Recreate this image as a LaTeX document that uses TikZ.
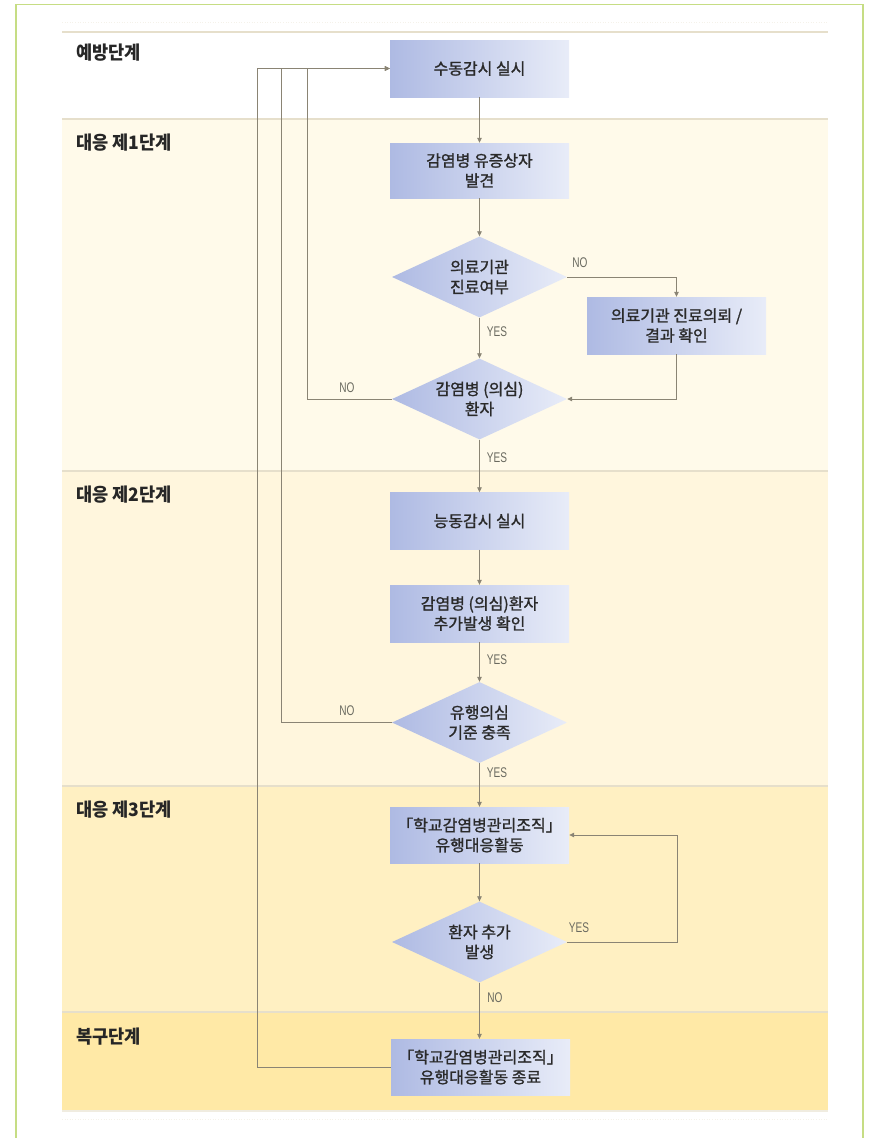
\documentclass[tikz,border=0pt]{standalone}
\usepackage{fontspec}
\setmainfont{Noto Sans CJK KR}
\newfontfamily\kfont{Noto Sans CJK KR}[FakeBold=1.2]
\newfontfamily\stgfont{Noto Sans CJK KR}[FakeStretch=0.95]
\newfontfamily\lab{Liberation Sans}[FakeStretch=0.72]
\usetikzlibrary{shapes.geometric,arrows.meta,calc}
\definecolor{bxL}{HTML}{AEBAE3}
\definecolor{bxR}{HTML}{E8ECF8}
\definecolor{txt}{HTML}{2A2A2A}
\definecolor{lnc}{HTML}{8A8474}
\definecolor{ync}{HTML}{6A6A60}
\definecolor{stgc}{HTML}{262626}
\definecolor{st1}{HTML}{FFFAEA}
\definecolor{st2}{HTML}{FFF6DD}
\definecolor{st3}{HTML}{FFF0C2}
\definecolor{st4}{HTML}{FFE9A6}
\definecolor{sep}{HTML}{E6DFCB}
\definecolor{frame}{HTML}{C6DD84}
\begin{document}
\begin{tikzpicture}[x=1pt,y=-1pt,
  box/.style={rectangle, minimum width=179pt, minimum height=57pt, inner sep=0pt,
    left color=bxL, right color=bxR, align=center,
    font=\kfont\fontsize{16}{20}\selectfont, text=txt},
  dia/.style={diamond, minimum width=175pt, minimum height=81pt, inner sep=0pt,
    left color=bxL, right color=bxR},
  dtext/.style={align=center, font=\kfont\fontsize{16}{20}\selectfont, text=txt, inner sep=0pt},
  ln/.style={draw=lnc, line width=0.8pt},
  arr/.style={ln, -{Triangle[length=5pt,width=4.5pt]}},
  yn/.style={font=\lab\fontsize{14}{14}\selectfont, text=ync, inner sep=0pt},
  stg/.style={font=\stgfont\bfseries\fontsize{18.5}{20}\selectfont, text=stgc, anchor=west, inner sep=0pt}]

\useasboundingbox (0,0) rectangle (874,1138);
\fill[white] (0,0) rectangle (874,1138);

% outer frame
\draw[frame, line width=1.5pt] (16,1145) -- (16,4.5) -- (863,4.5) -- (863,1145);

% stage bands
\fill[white] (62,32) rectangle (828,119);
\fill[st1] (62,119) rectangle (828,471);
\fill[st2] (62,471) rectangle (828,786);
\fill[st3] (62,786) rectangle (828,1012);
\fill[st4] (62,1012) rectangle (828,1110);
\foreach \yy in {32,119,471,786,1012} \draw[sep, line width=1.6pt] (62,\yy) -- (828,\yy);
\draw[sep!60, line width=1.2pt] (62,1111) -- (828,1111);
\draw[sep!40, line width=0.6pt, dotted] (62,22) -- (828,22);
\draw[sep!40, line width=0.6pt, dotted] (62,1119) -- (828,1119);

% stage labels
\node[stg] (s0) at (76,53) {예방단계};
\node[stg] (s1) at (76,143) {대응 제1단계};
\node[stg] (s2) at (76,495) {대응 제2단계};
\node[stg] (s3) at (76,810) {대응 제3단계};
\node[stg] (s4) at (76,1037) {복구단계};

% nodes
\node[box] (n1) at (479.5,68.5) {수동감시 실시};
\node[box, minimum height=55pt] (n2) at (479.5,170.5) {감염병 유증상자\\발견};
\node[dia, label={[dtext]center:{의료기관\\진료여부}}] (d1) at (479.5,277) {};
\node[box] (n3) at (676.5,325.5) {의료기관 진료의뢰 /\\결과 확인};
\node[dia, label={[dtext]center:{감염병 (의심)\\환자}}] (d2) at (479.5,399) {};
\node[box] (n4) at (479.5,521) {능동감시 실시};
\node[box, minimum height=57pt] (n5) at (479.5,613.5) {감염병 (의심)환자\\추가발생 확인};
\node[dia, label={[dtext]center:{유행의심\\기준 충족}}] (d3) at (479.5,722.5) {};
\node[box, minimum height=56pt] (n6) at (479.5,835) {「학교감염병관리조직」\\유행대응활동};
\node[dia, label={[dtext]center:{환자 추가\\발생}}] (d4) at (479.5,942) {};
\node[box, minimum height=56pt] (n7) at (480.5,1067) {「학교감염병관리조직」\\유행대응활동 종료};

% connectors
\draw[arr] (n1) -- (n2);
\draw[arr] (n2) -- (d1);
\draw[arr] (d1.east) -| (n3.north);
\draw[arr] (d1) -- (d2);
\draw[arr] (n3.south) |- (d2.east);
\draw[arr] (d2.west) -- ++(-84,0) |- (n1.west);
\draw[arr] (d2) -- (n4);
\draw[arr] (n4) -- (n5);
\draw[arr] (n5) -- (d3);
\draw[arr] (d3.west) -- ++(-110,0) |- (n1.west);
\draw[arr] (d3) -- (n6);
\draw[arr] (n6) -- (d4);
\draw[arr] (d4.east) -- ++(110,0) |- (n6.east);
\draw[arr] (d4.south) -- (d4.south |- n7.north);
\draw[arr] (n7.west) -- ++(-133,0) |- (n1.west);

% YES / NO labels
\node[yn] (l1) at (580,263) {NO};
\node[yn] (l2) at (497,332) {YES};
\node[yn] (l3) at (347,388) {NO};
\node[yn] (l4) at (497,458) {YES};
\node[yn] (l5) at (497,660) {YES};
\node[yn] (l6) at (347,711) {NO};
\node[yn] (l7) at (497,773) {YES};
\node[yn] (l8) at (579,928) {YES};
\node[yn] (l9) at (495,998) {NO};
\end{tikzpicture}
\end{document}
